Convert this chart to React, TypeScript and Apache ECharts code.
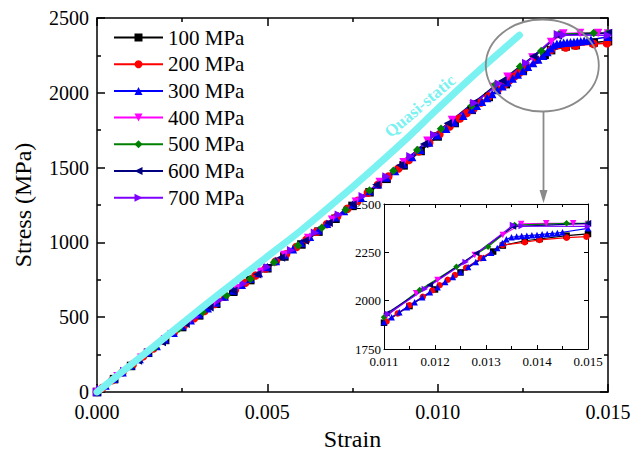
import React, { useEffect, useRef } from "react";
import * as echarts from "echarts";

const FONT = "Liberation Serif";

const NAMES = ["100 MPa", "200 MPa", "300 MPa", "400 MPa", "500 MPa", "600 MPa", "700 MPa"];
const COLORS = ["#000000", "#ff0000", "#0000ff", "#ff00ff", "#008000", "#000080", "#8000ff"];
const SYMBOLS = ["rect", "circle", "triangle", "triangle", "diamond", "triangle", "triangle"];
const ROTATES = [0, 0, 0, 180, 0, 90, -90];

const S100 = [[0,0],[0.0005,86],[0.001,174],[0.0015,262],[0.002,348],[0.0025,434],[0.003,512],[0.0035,590],[0.004,670],[0.0045,748],[0.005,827],[0.0055,906],[0.006,986],[0.0065,1072],[0.007,1158],[0.0075,1244],[0.008,1335],[0.0085,1425],[0.009,1515],[0.0095,1611],[0.010,1708],[0.0105,1798],[0.011,1886],[0.0115,1972],[0.012,2058],[0.0125,2146],[0.01314,2254],[0.01333,2285],[0.01376,2310],[0.01405,2319],[0.01458,2336],[0.015,2345]];

const S200 = [[0,0],[0.00015,26],[0.00045,79],[0.00075,132],[0.00105,185],[0.00135,238],[0.00165,290],[0.00195,343],[0.00225,396],[0.00255,446],[0.00285,493],[0.00315,541],[0.00345,588],[0.00375,636],[0.00405,683],[0.00435,730],[0.00465,778],[0.00495,825],[0.00525,873],[0.00555,921],[0.00585,969],[0.00615,1019],[0.00645,1071],[0.00675,1122],[0.00705,1174],[0.00735,1225],[0.00765,1278],[0.00795,1332],[0.00825,1386],[0.00855,1440],[0.00885,1494],[0.00915,1550],[0.00945,1608],[0.00975,1665],[0.01005,1722],[0.01035,1775],[0.01065,1828],[0.01085,1864],[0.01105,1892],[0.01127,1934],[0.0115,1976],[0.01176,2020],[0.01195,2054],[0.01209,2080],[0.01225,2108],[0.01239,2132],[0.01261,2170],[0.0129,2220],[0.01333,2288],[0.01376,2302],[0.01405,2314],[0.01458,2326],[0.01497,2331]];

const S300 = [[0,0],[0.00025,44],[0.0005,89],[0.00075,132],[0.001,177],[0.00125,220],[0.0015,265],[0.00175,308],[0.002,353],[0.00225,396],[0.0025,441],[0.00275,480],[0.003,520],[0.00325,559],[0.0035,599],[0.00375,638],[0.004,678],[0.00425,717],[0.0045,757],[0.00475,796],[0.005,836],[0.00525,875],[0.0055,916],[0.00575,955],[0.006,996],[0.00625,1038],[0.0065,1082],[0.00675,1124],[0.007,1168],[0.00725,1210],[0.0075,1254],[0.00775,1298],[0.008,1344],[0.00825,1388],[0.0085,1434],[0.00875,1478],[0.009,1524],[0.00925,1571],[0.0095,1620],[0.00975,1667],[0.010,1716],[0.01025,1759],[0.0105,1803],[0.01075,1846],[0.011,1890],[0.01115,1914],[0.0113,1940],[0.01145,1966],[0.0116,1992],[0.01175,2018],[0.0119,2044],[0.01205,2070],[0.0122,2096],[0.01235,2122],[0.0125,2148],[0.01265,2174],[0.0128,2200],[0.01295,2222],[0.0131,2248],[0.01322,2272],[0.01332,2298],[0.0134,2318],[0.0135,2328],[0.0136,2332],[0.0137,2334],[0.0138,2336],[0.0139,2338],[0.014,2340],[0.0141,2343],[0.0142,2345],[0.0143,2348],[0.0144,2350],[0.0145,2354],[0.015,2374]];

const S400 = [[0,0],[0.0006,106],[0.0013,229],[0.002,352],[0.0027,472],[0.0034,582],[0.0041,693],[0.0048,803],[0.0055,915],[0.0062,1030],[0.0069,1151],[0.0076,1272],[0.0083,1403],[0.009,1535],[0.0097,1679],[0.01042,1818],[0.01105,1921],[0.01163,2038],[0.01205,2107],[0.01278,2236],[0.01333,2340],[0.01369,2397],[0.01418,2400],[0.01471,2400],[0.015,2396]];

const S500 = [[0,0],[0.0003,53],[0.001,176],[0.0017,299],[0.0024,422],[0.0031,535],[0.0038,645],[0.0045,756],[0.0052,867],[0.0059,979],[0.0066,1098],[0.0073,1219],[0.008,1347],[0.0087,1479],[0.0094,1617],[0.0101,1759],[0.011,1914],[0.0117,2055],[0.01242,2176],[0.01304,2279],[0.01356,2391],[0.01458,2400],[0.015,2400]];

const S600 = [[0,0],[0.0005,88],[0.0012,211],[0.0019,334],[0.0026,456],[0.0033,566],[0.004,677],[0.0047,787],[0.0054,899],[0.0061,1012],[0.0068,1132],[0.0075,1253],[0.0082,1385],[0.0089,1516],[0.0096,1658],[0.0103,1796],[0.01105,1934],[0.0119,2081],[0.01281,2245],[0.01353,2383],[0.015,2400]];

const S700 = [[0,0],[0.0001,18],[0.0008,141],[0.0015,264],[0.0022,387],[0.0029,503],[0.0036,614],[0.0043,724],[0.005,835],[0.0057,947],[0.0064,1064],[0.0071,1184],[0.0078,1309],[0.0085,1441],[0.0092,1576],[0.0099,1720],[0.01108,1931],[0.0118,2060],[0.0126,2200],[0.01353,2391],[0.0137,2386],[0.015,2384]];

const QUASI_STATIC = [[0,0],[0.001,183],[0.002,366],[0.003,550],[0.004,728],[0.005,905],[0.006,1082],[0.007,1272],[0.008,1470],[0.009,1675],[0.010,1893],[0.011,2105],[0.0124,2385]];

const SERIES_DATA = [S100, S200, S300, S400, S500, S600, S700];

const MAIN_X_TICKS = { min: 0, max: 0.015, interval: 0.005 };
const MAIN_Y_TICKS = { min: 0, max: 2500, interval: 500 };
const INSET_X_TICKS = { min: 0.011, max: 0.015, interval: 0.001 };
const INSET_Y_TICKS = { min: 1750, max: 2500, interval: 250 };

function axisCommon(lineW: number, tickLen: number, minorLen: number, minorSplit: number) {
  return {
    type: "value",
    axisLine: { show: true, onZero: false, lineStyle: { color: "#000", width: lineW } },
    axisTick: { show: true, inside: true, length: tickLen, lineStyle: { color: "#000", width: lineW } },
    minorTick: { show: minorSplit > 0, splitNumber: minorSplit || 2, length: minorLen, lineStyle: { color: "#000", width: lineW } },
    splitLine: { show: false },
  };
}

export default function App() {
  const ref = useRef<HTMLDivElement>(null);
  useEffect(() => {
    if (!ref.current) return;
    const chart = echarts.init(ref.current, undefined, { renderer: "svg" });

    const mainSeries = SERIES_DATA.map((d, i) => ({
      name: NAMES[i],
      type: "line",
      xAxisIndex: 0,
      yAxisIndex: 0,
      data: d,
      symbol: SYMBOLS[i],
      symbolRotate: ROTATES[i],
      symbolSize: 8.5,
      showAllSymbol: true,
      color: COLORS[i],
      lineStyle: { color: COLORS[i], width: 1.5 },
      itemStyle: { color: COLORS[i] },
      z: 3,
    }));
    const insetSeries = SERIES_DATA.map((d, i) => ({
      name: NAMES[i],
      type: "line",
      xAxisIndex: 2,
      yAxisIndex: 2,
      data: d,
      symbol: SYMBOLS[i],
      symbolRotate: ROTATES[i],
      symbolSize: 6.5,
      showAllSymbol: true,
      color: COLORS[i],
      lineStyle: { color: COLORS[i], width: 1.2 },
      itemStyle: { color: COLORS[i] },
      z: 3,
    }));

    const labelMain = { color: "#000", fontFamily: FONT, fontSize: 20 };
    const labelInset = { color: "#000", fontFamily: FONT, fontSize: 13, lineHeight: 12 };
    const plain = (v: number) => String(v);

    chart.setOption({
      animation: false,
      backgroundColor: "#fff",
      textStyle: { fontFamily: FONT },
      grid: [
        { left: 97, top: 18, width: 511, height: 374 },
        { left: 384, top: 204, width: 204, height: 145 },
      ],
      legend: {
        data: NAMES,
        orient: "vertical",
        left: 113,
        top: 27,
        padding: 0,
        itemWidth: 49,
        itemHeight: 10,
        itemGap: 5.7,
        selectedMode: false,
        textStyle: { fontFamily: FONT, fontSize: 21, color: "#000", lineHeight: 21 },
      },
      xAxis: [
        {
          ...axisCommon(1.5, 8, 4, 2), gridIndex: 0, position: "bottom", ...MAIN_X_TICKS,
          axisLabel: { ...labelMain, margin: 10, formatter: (v: number) => v.toFixed(3) },
          name: "Strain", nameLocation: "middle", nameGap: 26,
          nameTextStyle: { fontFamily: FONT, fontSize: 24, color: "#000" },
        },
        {
          ...axisCommon(1.5, 8, 4, 2), gridIndex: 0, position: "top", ...MAIN_X_TICKS,
          axisLabel: { show: false },
        },
        {
          ...axisCommon(1, 4, 3, 2), gridIndex: 1, position: "bottom", ...INSET_X_TICKS,
          axisLabel: { ...labelInset, margin: 6, formatter: (v: number) => v.toFixed(3) },
        },
        {
          ...axisCommon(1, 4, 3, 2), gridIndex: 1, position: "top", ...INSET_X_TICKS,
          axisLabel: { show: false },
        },
      ],
      yAxis: [
        {
          ...axisCommon(1.5, 8, 4, 2), gridIndex: 0, position: "left", ...MAIN_Y_TICKS,
          axisLabel: { ...labelMain, margin: 8, formatter: plain },
          name: "Stress (MPa)", nameLocation: "middle", nameGap: 62,
          nameTextStyle: { fontFamily: FONT, fontSize: 24, color: "#000" },
        },
        {
          ...axisCommon(1.5, 8, 4, 2), gridIndex: 0, position: "right", ...MAIN_Y_TICKS,
          axisLabel: { show: false },
        },
        {
          ...axisCommon(1, 5, 3, 0), gridIndex: 1, position: "left", ...INSET_Y_TICKS,
          axisLabel: { ...labelInset, margin: 3, formatter: plain },
        },
        {
          ...axisCommon(1, 4, 3, 0), gridIndex: 1, position: "right", ...INSET_Y_TICKS,
          axisLabel: { show: false },
        },
      ],
      series: [
        ...mainSeries,
        ...insetSeries,
        {
          name: "Quasi-static",
          type: "line",
          xAxisIndex: 0,
          yAxisIndex: 0,
          data: QUASI_STATIC,
          symbol: "none",
          smooth: 0.3,
          color: "#7af2f2",
          lineStyle: { color: "#7af2f2", width: 7, cap: "round", join: "round" },
          z: 4,
        },
      ],
      graphic: [
        {
          type: "text",
          x: 420,
          y: 106,
          rotation: (40.4 * Math.PI) / 180,
          z: 10,
          style: {
            text: "Quasi-static",
            fill: "#7af2f2",
            fontFamily: FONT,
            fontSize: 17,
            fontWeight: "bold",
            align: "center",
            verticalAlign: "middle",
          },
        },
        {
          type: "ellipse",
          z: 10,
          shape: { cx: 542.3, cy: 65.5, rx: 56.5, ry: 46 },
          style: { fill: "none", stroke: "#8a8a8a", lineWidth: 1.8 },
        },
        {
          type: "line",
          z: 10,
          shape: { x1: 543.5, y1: 111.5, x2: 543.5, y2: 194 },
          style: { stroke: "#8a8a8a", lineWidth: 1.8 },
        },
        {
          type: "polygon",
          z: 10,
          shape: { points: [[539.5, 190], [547.5, 190], [543.5, 203]] },
          style: { fill: "#8a8a8a" },
        },
      ],
    });
    return () => chart.dispose();
  }, []);
  return (
    <div
      ref={ref}
      style={{ position: "fixed", left: 0, top: 0, width: 643, height: 460, background: "#fff" }}
    />
  );
}
